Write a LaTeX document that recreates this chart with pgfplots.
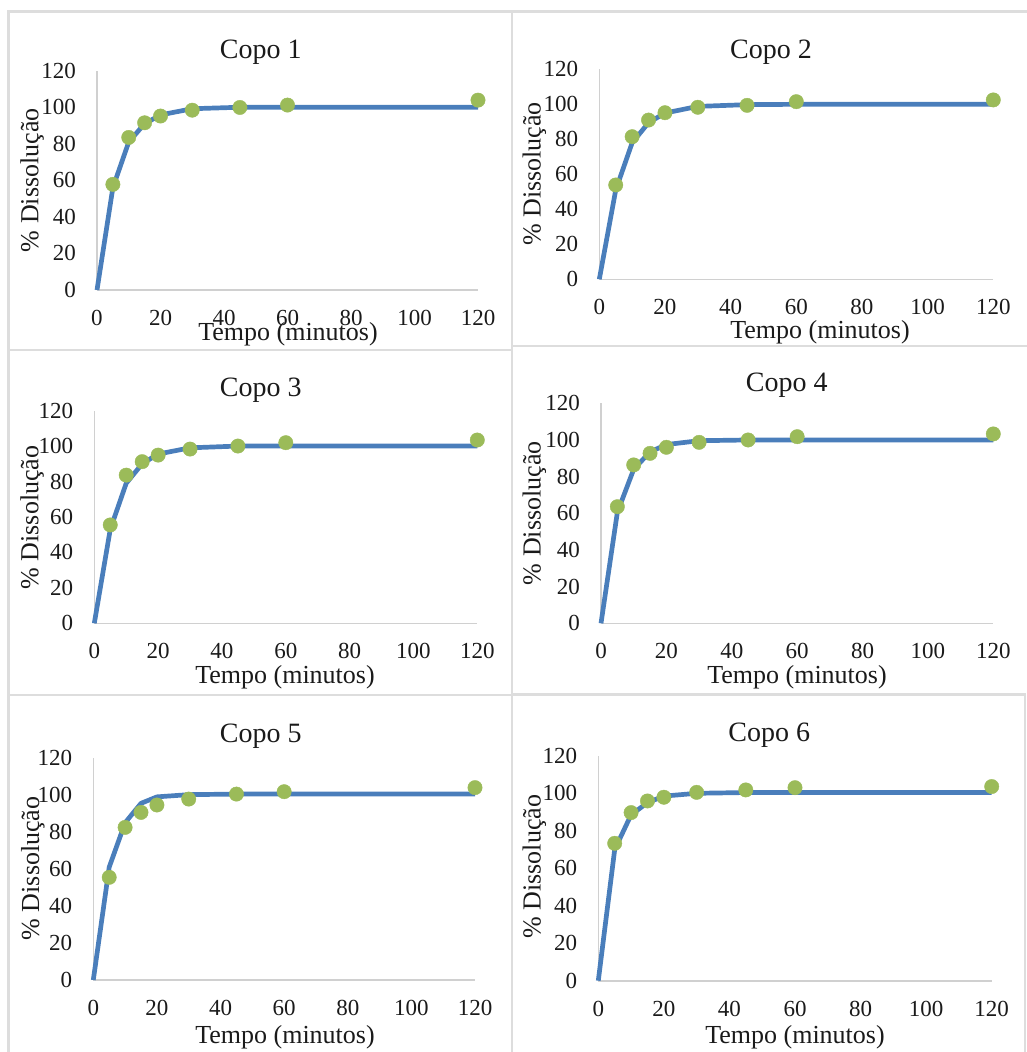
\documentclass[border=0pt]{standalone}
\usepackage{pgfplots}
\pgfplotsset{compat=1.18}
\usepackage{fontspec}
\setmainfont{Liberation Serif}
\definecolor{fitblue}{HTML}{4A7EBB}
\definecolor{ptgreen}{HTML}{9BBB59}
\definecolor{bordergray}{HTML}{DDDDDD}
\definecolor{axisgray}{HTML}{D0D0D0}
\definecolor{txt}{HTML}{1A1A1A}
\pgfplotsset{
  panel/.style={
    scale only axis, anchor=south west, clip=false,
    xmin=0, xmax=120, ymin=0, ymax=120,
    xtick={0,20,...,120}, ytick={0,20,...,120},
    axis x line*=bottom, axis y line*=left,
    axis line style={draw=axisgray, line width=1.6pt, -},
    major tick style={draw=none},
    /pgf/number format/assume math mode=true,
    tick label style={font=\fontsize{23}{26}\selectfont, text=txt, inner sep=0pt},
    yticklabel style={anchor=east, xshift=-21pt},
    xticklabel style={anchor=north, yshift=-20pt},
  },
  fit/.style={color=fitblue, line width=4.7pt, line join=round, no markers},
  pts/.style={only marks, mark=*, mark size=7.2pt, mark options={draw=ptgreen, fill=ptgreen}},
}
\newcommand{\ttl}[3]{\node[anchor=base, font=\fontsize{28}{32}\selectfont, text=txt] at (#1pt,-#2pt) {#3};}
\newcommand{\xl}[2]{\node[anchor=base, font=\fontsize{26}{30}\selectfont, text=txt] at (#1pt,-#2pt) {Tempo (minutos)};}
\newcommand{\yl}[2]{\node[anchor=base, rotate=90, font=\fontsize{26}{30}\selectfont, text=txt] at (#1pt,-#2pt) {\% Dissolução};}
\begin{document}
\begin{tikzpicture}
\useasboundingbox (0pt,0pt) rectangle (1027pt,-1052pt);
% panel borders
\begin{scope}[draw=bordergray, line width=2.4pt]
\draw (8.5pt,-1052pt) -- (8.5pt,-11.5pt) -- (1027pt,-11.5pt);
\draw (511.7pt,-11.5pt) -- (511.7pt,-1052pt);
\draw (8.5pt,-350pt) -- (511.7pt,-350pt);
\draw (511.7pt,-345.7pt) -- (1027pt,-345.7pt);
\draw (8.5pt,-695pt) -- (511.7pt,-695pt);
\draw (511.7pt,-694.3pt) -- (1025pt,-694.3pt) -- (1025pt,-1052pt);
\end{scope}

% Copo 1
\begin{axis}[panel, at={(97pt,-290pt)}, width=381pt, height=219.3pt]
\addplot[fit] coordinates {(0,0) (5,56) (10,81) (15,91) (20,95.8) (30,99.2) (45,100) (60,100) (120,100)};
\addplot[pts] coordinates {(5,57.8) (10,83.5) (15,91.5) (20,95.2) (30,98.4) (45,99.9) (60,101.2) (120,103.9)};
\end{axis}
% Copo 2
\begin{axis}[panel, at={(599.3pt,-279.3pt)}, width=394pt, height=210pt]
\addplot[fit] coordinates {(0,0) (5,51) (10,78) (15,89.5) (20,95) (30,98.8) (45,99.8) (60,100) (120,100)};
\addplot[pts] coordinates {(5,53.9) (10,81.5) (15,91) (20,95.2) (30,98.3) (45,99.4) (60,101.5) (120,102.5)};
\end{axis}
% Copo 3
\begin{axis}[panel, at={(94.3pt,-623.3pt)}, width=383pt, height=212.7pt]
\addplot[fit] coordinates {(0,0) (5,53) (10,79) (15,90) (20,95.5) (30,99) (45,100) (60,100) (120,100)};
\addplot[pts] coordinates {(5,55.5) (10,83.6) (15,91.2) (20,94.9) (30,98.3) (45,100) (60,101.9) (120,103.4)};
\end{axis}
% Copo 4
\begin{axis}[panel, at={(601pt,-623.3pt)}, width=392.3pt, height=220pt]
\addplot[fit] coordinates {(0,0) (5,60.5) (10,84) (15,93.5) (20,97.5) (30,99.6) (45,100) (60,100) (120,100)};
\addplot[pts] coordinates {(5,63.6) (10,86.4) (15,92.7) (20,96) (30,98.7) (45,100) (60,101.8) (120,103.3)};
\end{axis}
% Copo 5
\begin{axis}[panel, at={(93.3pt,-980pt)}, width=381.7pt, height=222pt]
\addplot[fit] coordinates {(0,0) (5,61) (10,85) (15,95.5) (20,99) (30,100.2) (45,100.5) (60,100.5) (120,100.5)};
\addplot[pts] coordinates {(5,55.5) (10,82.5) (15,90.6) (20,94.6) (30,97.8) (45,100.5) (60,101.8) (120,104)};
\end{axis}
% Copo 6
\begin{axis}[panel, at={(598.3pt,-980.7pt)}, width=393.4pt, height=224.9pt]
\addplot[fit] coordinates {(0,0) (5,70) (10,88.5) (15,95) (20,98.5) (30,100) (45,100.4) (60,100.4) (120,100.4)};
\addplot[pts] coordinates {(5,73.3) (10,89.7) (15,95.9) (20,97.9) (30,100.5) (45,101.8) (60,103) (120,103.6)};
\end{axis}

\ttl{260.7}{58}{Copo 1}
\ttl{771}{58}{Copo 2}
\ttl{260.7}{396.7}{Copo 3}
\ttl{786.7}{391.7}{Copo 4}
\ttl{260.7}{742.3}{Copo 5}
\ttl{769.3}{741.7}{Copo 6}

\xl{288}{340}
\xl{820}{338.3}
\xl{285}{683.3}
\xl{797}{683.3}
\xl{285}{1043.3}
\xl{795}{1043.3}

\yl{38.3}{180.3}
\yl{540.7}{174}
\yl{38.3}{517.5}
\yl{540.7}{513.3}
\yl{39}{868.3}
\yl{540.7}{866.7}
\end{tikzpicture}
\end{document}
